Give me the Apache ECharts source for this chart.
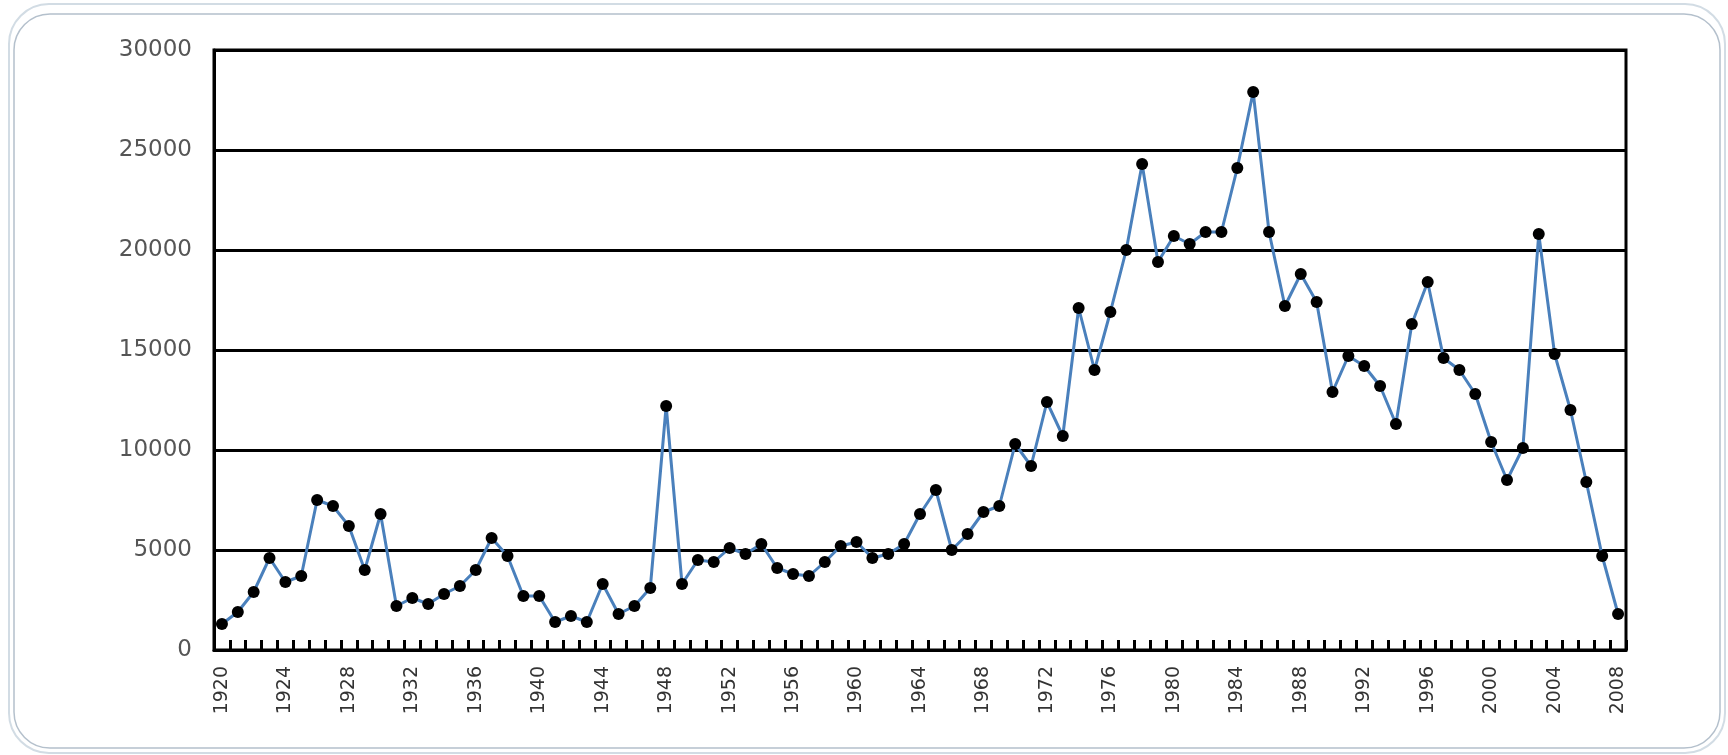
<!DOCTYPE html>
<html>
<head>
<meta charset="utf-8">
<script src="https://cdn.jsdelivr.net/npm/echarts@6/dist/echarts.min.js"></script>
<style>
html,body{margin:0;padding:0;background:#fff;}
#chart{width:1728px;height:755px;}
</style>
</head>
<body>
<div id="chart"></div>
<script>
const years = [];
for (let y = 1920; y <= 2008; y++) years.push(String(y));

const values = [
  1300, 1900, 2900, 4600, 3400, 3700, 7500, 7200, 6200, 4000,
  6800, 2200, 2600, 2300, 2800, 3200, 4000, 5600, 4700, 2700,
  2700, 1400, 1700, 1400, 3300, 1800, 2200, 3100, 12200, 3300,
  4500, 4400, 5100, 4800, 5300, 4100, 3800, 3700, 4400, 5200,
  5400, 4600, 4800, 5300, 6800, 8000, 5000, 5800, 6900, 7200,
  10300, 9200, 12400, 10700, 17100, 14000, 16900, 20000, 24300, 19400,
  20700, 20300, 20900, 20900, 24100, 27900, 20900, 17200, 18800, 17400,
  12900, 14700, 14200, 13200, 11300, 16300, 18400, 14600, 14000, 12800,
  10400, 8500, 10100, 20800, 14800, 12000, 8400, 4700, 1800
];

const yTicks = [0, 5000, 10000, 15000, 20000, 25000, 30000];

const chart = echarts.init(document.getElementById('chart'));
chart.setOption({
  backgroundColor: '#ffffff',
  animation: false,
  graphic: [
    { type: 'rect', shape: { x: 9, y: 4, width: 1716, height: 749, r: 40 },
      style: { fill: 'none', stroke: '#d2dce4', lineWidth: 2 }, z: -10 },
    { type: 'rect', shape: { x: 14, y: 14, width: 1706, height: 734, r: 36 },
      style: { fill: 'none', stroke: '#b4c0cc', lineWidth: 1.5 }, z: -10 }
  ],
  grid: {
    left: 214, right: 102, top: 50, bottom: 105,
    show: true, borderColor: '#000', borderWidth: 3, backgroundColor: 'transparent'
  },
  xAxis: {
    type: 'category',
    data: years,
    boundaryGap: true,
    axisLine: { lineStyle: { color: '#000', width: 3 } },
    axisTick: { show: true, inside: true, length: 10, interval: 0, lineStyle: { color: '#000', width: 3 } },
    axisLabel: {
      interval: 3, rotate: 90, color: '#333', fontSize: 19,
      fontFamily: 'DejaVu Sans, sans-serif', margin: 16
    },
    splitLine: { show: false }
  },
  yAxis: {
    type: 'value',
    min: 0, max: 30000, interval: 5000,
    axisLine: { show: true, lineStyle: { color: '#000', width: 3 } },
    axisTick: { show: false },
    axisLabel: {
      color: '#555', fontSize: 23, margin: 22,
      fontFamily: 'DejaVu Sans, sans-serif',
      formatter: v => yTicks.includes(v) ? String(v) : ''
    },
    splitLine: { show: true, lineStyle: { color: '#000', width: 3 } }
  },
  series: [{
    type: 'line',
    data: values,
    symbol: 'circle',
    symbolSize: 12,
    showAllSymbol: true,
    itemStyle: { color: '#000' },
    lineStyle: { color: '#4a80bc', width: 3 },
    z: 5
  }]
});
</script>
</body>
</html>
